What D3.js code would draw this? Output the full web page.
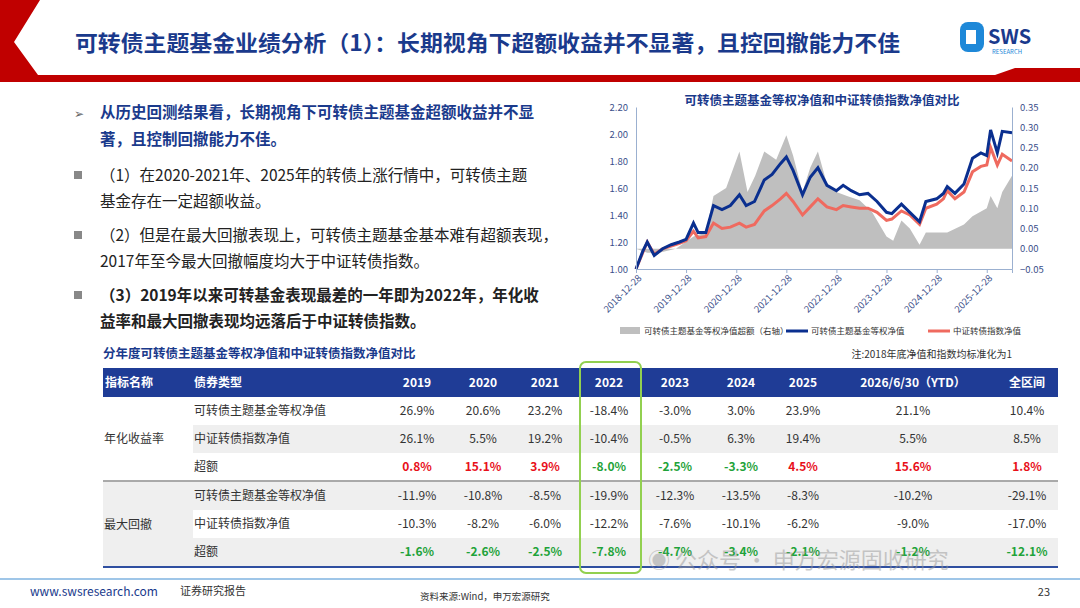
<!DOCTYPE html>
<html><head><meta charset="utf-8">
<script src="https://cdn.jsdelivr.net/npm/d3@7"></script>
<style>
body{margin:0;background:#fff;}
text{font-family:"Noto Sans CJK SC","Noto Sans",sans-serif;}
</style></head>
<body><svg id="c" width="1080" height="608"></svg>
<script>
// series data
const fundDates = ["2018-12-28","2019-02-15","2019-03-20","2019-05-10","2019-07-10","2019-09-10","2019-11-10","2019-12-28","2020-02-20","2020-03-25","2020-05-20","2020-07-15","2020-09-15","2020-11-15","2021-01-20","2021-03-10","2021-05-10","2021-07-20","2021-09-15","2021-11-15","2021-12-28","2022-02-15","2022-04-25","2022-06-20","2022-08-15","2022-10-20","2022-12-28","2023-02-15","2023-04-15","2023-06-15","2023-08-15","2023-10-20","2023-12-28","2024-02-05","2024-04-15","2024-06-15","2024-08-25","2024-10-10","2024-12-28","2025-02-15","2025-03-15","2025-05-10","2025-07-15","2025-09-15","2025-11-15","2025-12-28","2026-01-25","2026-03-15","2026-04-20","2026-06-30"];
const fundNav = [1.00,1.13,1.20,1.10,1.15,1.18,1.20,1.22,1.34,1.27,1.27,1.47,1.44,1.47,1.55,1.47,1.50,1.66,1.70,1.78,1.83,1.73,1.55,1.68,1.75,1.62,1.58,1.62,1.58,1.55,1.56,1.50,1.42,1.41,1.48,1.42,1.35,1.50,1.52,1.56,1.61,1.56,1.63,1.82,1.86,1.84,2.03,1.86,2.02,2.01];
const indexNav = [1.00,1.12,1.20,1.11,1.15,1.17,1.19,1.21,1.28,1.23,1.24,1.34,1.30,1.31,1.34,1.31,1.33,1.43,1.47,1.52,1.56,1.50,1.40,1.46,1.52,1.46,1.44,1.47,1.46,1.45,1.45,1.42,1.36,1.37,1.43,1.40,1.33,1.45,1.48,1.52,1.58,1.52,1.57,1.72,1.76,1.77,1.90,1.77,1.85,1.80];
const excessDates = ["2018-12-28","2019-03-20","2019-06-15","2019-10-15","2020-02-20","2020-05-20","2020-07-15","2020-10-15","2021-01-20","2021-03-20","2021-05-15","2021-07-20","2021-10-15","2021-12-28","2022-02-15","2022-04-25","2022-06-20","2022-08-15","2022-10-20","2022-12-28","2023-03-15","2023-06-15","2023-09-15","2023-12-28","2024-02-15","2024-04-15","2024-06-15","2024-08-25","2024-10-10","2025-01-15","2025-03-15","2025-05-15","2025-07-15","2025-09-15","2025-12-28","2026-01-25","2026-03-15","2026-04-20","2026-06-30"];
const excess = [0.00,-0.01,-0.01,0.00,0.03,0.04,0.13,0.15,0.24,0.14,0.18,0.24,0.22,0.28,0.23,0.14,0.20,0.24,0.16,0.14,0.13,0.12,0.09,0.03,0.02,0.07,0.05,0.01,0.04,0.04,0.04,0.05,0.06,0.08,0.10,0.13,0.10,0.14,0.18];
const xTicks = ["2018-12-28","2019-12-28","2020-12-28","2021-12-28","2022-12-28","2023-12-28","2024-12-28","2025-12-28"];
const leftTicks = [1.00,1.20,1.40,1.60,1.80,2.00,2.20];
const rightTicks = [-0.05,0.00,0.05,0.10,0.15,0.20,0.25,0.30,0.35];

// table data
const years = ["2019","2020","2021","2022","2023","2024","2025","2026/6/30（YTD）","全区间"];
const retFund = ["26.9%","20.6%","23.2%","-18.4%","-3.0%","3.0%","23.9%","21.1%","10.4%"];
const retIndex = ["26.1%","5.5%","19.2%","-10.4%","-0.5%","6.3%","19.4%","5.5%","8.5%"];
const retExcess = ["0.8%","15.1%","3.9%","-8.0%","-2.5%","-3.3%","4.5%","15.6%","1.8%"];
const ddFund = ["-11.9%","-10.8%","-8.5%","-19.9%","-12.3%","-13.5%","-8.3%","-10.2%","-29.1%"];
const ddIndex = ["-10.3%","-8.2%","-6.0%","-12.2%","-7.6%","-10.1%","-6.2%","-9.0%","-17.0%"];
const ddExcess = ["-1.6%","-2.6%","-2.5%","-7.8%","-4.7%","-3.4%","-2.1%","-1.2%","-12.1%"];

const svg = d3.select("#c");
const navy = "#1a3a8c";
const parse = d3.timeParse("%Y-%m-%d");

// header
svg.append("path").attr("d","M0,0 L40,0 L14,42 L38,75 L995,75 L1015,68 L1080,68 L1080,82 L0,82 Z").attr("fill","#c00000");
svg.append("path").attr("d","M42,0 L1080,0 L1080,66 L1015,66 L995,73 L40,73 L16,42 Z").attr("fill","#fff");
svg.append("text").attr("x",75).attr("y",51).attr("font-size",22).attr("font-weight","bold").attr("fill",navy)
  .attr("textLength",825).attr("lengthAdjust","spacingAndGlyphs")
  .text("可转债主题基金业绩分析（1）：长期视角下超额收益并不显著，且控回撤能力不佳");
const logo = svg.append("g").attr("transform","translate(960,22)");
logo.append("rect").attr("x",0).attr("y",0).attr("width",24).attr("height",30).attr("rx",8).attr("fill","#1e88d8");
logo.append("rect").attr("x",6).attr("y",8).attr("width",10).attr("height",14).attr("fill","#fff");
logo.append("text").attr("x",28).attr("y",22).attr("font-size",20).attr("font-weight","bold").attr("fill",navy).text("SWS");
logo.append("text").attr("x",32).attr("y",32).attr("font-size",6).attr("fill","#1e88d8").text("RESEARCH");

// bullets
const bl = svg.append("g").attr("font-size",15.5);
bl.append("text").attr("x",74).attr("y",118).attr("font-size",12).attr("fill","#666").text("➢");
bl.append("text").attr("x",100).attr("y",118).attr("font-weight","bold").attr("fill",navy).text("从历史回测结果看，长期视角下可转债主题基金超额收益并不显");
bl.append("text").attr("x",100).attr("y",145).attr("font-weight","bold").attr("fill",navy).text("著，且控制回撤能力不佳。");
const paras = [
  [[181,"（1）在2020-2021年、2025年的转债上涨行情中，可转债主题"],[207,"基金存在一定超额收益。"]],
  [[241,"（2）但是在最大回撤表现上，可转债主题基金基本难有超额表现，"],[267,"2017年至今最大回撤幅度均大于中证转债指数。"]],
  [[301,"（3）2019年以来可转基金表现最差的一年即为2022年，年化收"],[327,"益率和最大回撤表现均远落后于中证转债指数。"]]
];
paras.forEach((p,i)=>{
  bl.append("rect").attr("x",74).attr("y",p[0][0]-10).attr("width",8).attr("height",8).attr("fill","#888");
  p.forEach(l=>bl.append("text").attr("x",100).attr("y",l[0]).attr("fill","#222").attr("font-weight",i==2?"bold":"normal").text(l[1]));
});

// chart
const x = d3.scaleTime().domain([parse("2018-12-28"),parse("2026-06-30")]).range([636,1012]);
const yL = d3.scaleLinear().domain([1.0,2.2]).range([269,107]);
const yR = d3.scaleLinear().domain([-0.05,0.35]).range([269,107]);
svg.append("text").attr("x",822).attr("y",105).attr("text-anchor","middle").attr("font-size",12.5).attr("font-weight","bold").attr("fill",navy)
  .text("可转债主题基金等权净值和中证转债指数净值对比");
const ex = excessDates.map((d,i)=>({d:parse(d),v:excess[i]}));
svg.append("path").datum(ex).attr("fill","#bfbfbf")
  .attr("d",d3.area().x(d=>x(d.d)).y0(yR(0)).y1(d=>yR(d.v)));
const fl = fundDates.map((d,i)=>({d:parse(d),f:fundNav[i],r:indexNav[i]}));
svg.append("path").datum(fl).attr("fill","none").attr("stroke","#ef6a5f").attr("stroke-width",3)
  .attr("d",d3.line().x(d=>x(d.d)).y(d=>yL(d.r)));
svg.append("path").datum(fl).attr("fill","none").attr("stroke","#0a2f8f").attr("stroke-width",3)
  .attr("d",d3.line().x(d=>x(d.d)).y(d=>yL(d.f)));
const axColor="#9bb0d0", lbColor="#3b4f8a";
const gl = svg.append("g").attr("transform","translate(636,0)").call(d3.axisLeft(yL).tickValues(leftTicks).tickFormat(d3.format(".2f")).tickSize(0).tickPadding(8));
const gr = svg.append("g").attr("transform","translate(1012,0)").call(d3.axisRight(yR).tickValues(rightTicks).tickFormat(d3.format(".2f")).tickSize(0).tickPadding(8));
const gx = svg.append("g").attr("transform","translate(0,269)").call(d3.axisBottom(x).tickValues(xTicks.map(parse)).tickFormat(d3.timeFormat("%Y-%m-%d")).tickSize(4));
[gl,gr,gx].forEach(g=>{g.selectAll("path,line").attr("stroke",axColor);g.selectAll("text").attr("fill",lbColor).attr("font-size",9.5).attr("font-family","Arial, Liberation Sans");});
gx.selectAll("text").attr("text-anchor","end").attr("dx","-0.3em").attr("dy","0.4em").attr("transform","rotate(-45)");
const lg = svg.append("g").attr("font-size",8.5).attr("fill","#333");
lg.append("rect").attr("x",620).attr("y",327).attr("width",20).attr("height",7).attr("fill","#bfbfbf");
lg.append("text").attr("x",644).attr("y",334).text("可转债主题基金等权净值超额（右轴）");
lg.append("line").attr("x1",786).attr("x2",808).attr("y1",331).attr("y2",331).attr("stroke","#0a2f8f").attr("stroke-width",3);
lg.append("text").attr("x",811).attr("y",334).text("可转债主题基金等权净值");
lg.append("line").attr("x1",928).attr("x2",950).attr("y1",331).attr("y2",331).attr("stroke","#ef6a5f").attr("stroke-width",3);
lg.append("text").attr("x",953).attr("y",334).text("中证转债指数净值");

// table
svg.append("text").attr("x",103).attr("y",358).attr("font-size",12.5).attr("font-weight","bold").attr("fill",navy).text("分年度可转债主题基金等权净值和中证转债指数净值对比");
svg.append("text").attr("x",1012).attr("y",358).attr("text-anchor","end").attr("font-size",10).attr("fill","#333").text("注:2018年底净值和指数均标准化为1");
const colX = [417,483,545,609,675,741,803,913,1027];
const T = svg.append("g").attr("font-size",12);
T.append("rect").attr("x",103).attr("y",368).attr("width",955).attr("height",29).attr("fill","#1f3c96");
T.append("text").attr("x",105).attr("y",387).attr("fill","#fff").attr("font-weight","bold").text("指标名称");
T.append("text").attr("x",194).attr("y",387).attr("fill","#fff").attr("font-weight","bold").text("债券类型");
years.forEach((y,i)=>T.append("text").attr("x",colX[i]).attr("y",387).attr("text-anchor","middle").attr("fill","#fff").attr("font-weight","bold").text(y));
const gray="#efefef";
T.append("rect").attr("x",193).attr("y",425).attr("width",865).attr("height",28).attr("fill",gray);
T.append("rect").attr("x",103).attr("y",482).attr("width",90).attr("height",85).attr("fill",gray);
T.append("rect").attr("x",193).attr("y",482).attr("width",865).attr("height",28).attr("fill",gray);
T.append("rect").attr("x",193).attr("y",538).attr("width",865).attr("height",29).attr("fill",gray);
T.append("line").attr("x1",103).attr("x2",1058).attr("y1",481).attr("y2",481).attr("stroke","#555").attr("stroke-width",1);
T.append("line").attr("x1",103).attr("x2",1058).attr("y1",567).attr("y2",567).attr("stroke","#2f4fa0").attr("stroke-width",2);
T.append("text").attr("x",104).attr("y",443).attr("fill","#333").text("年化收益率");
T.append("text").attr("x",104).attr("y",529).attr("fill","#333").text("最大回撤");
const rows = [["可转债主题基金等权净值",retFund,0],["中证转债指数净值",retIndex,0],["超额",retExcess,1],
  ["可转债主题基金等权净值",ddFund,0],["中证转债指数净值",ddIndex,0],["超额",ddExcess,1]];
const rowY = [415,443,471,500,528,556];
rows.forEach((r,j)=>{
  T.append("text").attr("x",194).attr("y",rowY[j]).attr("fill","#333").text(r[0]);
  r[1].forEach((v,i)=>T.append("text").attr("x",colX[i]).attr("y",rowY[j]).attr("text-anchor","middle")
    .attr("font-weight",r[2]?"bold":"normal")
    .attr("fill",r[2]?(v.startsWith("-")?"#1fa33a":"#e8101a"):"#333").text(v));
});
T.append("rect").attr("x",580).attr("y",362).attr("width",61).attr("height",211).attr("rx",6).attr("fill","none").attr("stroke","#92d050").attr("stroke-width",2);

// watermark
svg.append("text").attr("x",648).attr("y",568).attr("font-size",22).attr("fill","#999").attr("opacity",0.5).text("◉ 公众号 · 申万宏源固收研究");

// footer
svg.append("line").attr("x1",0).attr("x2",1080).attr("y1",579).attr("y2",579).attr("stroke","#7fb3e0").attr("stroke-width",1.5);
svg.append("text").attr("x",30).attr("y",596).attr("font-size",12).attr("fill",navy).text("www.swsresearch.com");
svg.append("text").attr("x",180).attr("y",595).attr("font-size",11).attr("fill","#333").text("证券研究报告");
svg.append("text").attr("x",420).attr("y",600).attr("font-size",9.5).attr("fill","#333").text("资料来源:Wind，申万宏源研究");
svg.append("text").attr("x",1050).attr("y",596).attr("text-anchor","end").attr("font-size",11).attr("fill","#333").text("23");
</script></body></html>
